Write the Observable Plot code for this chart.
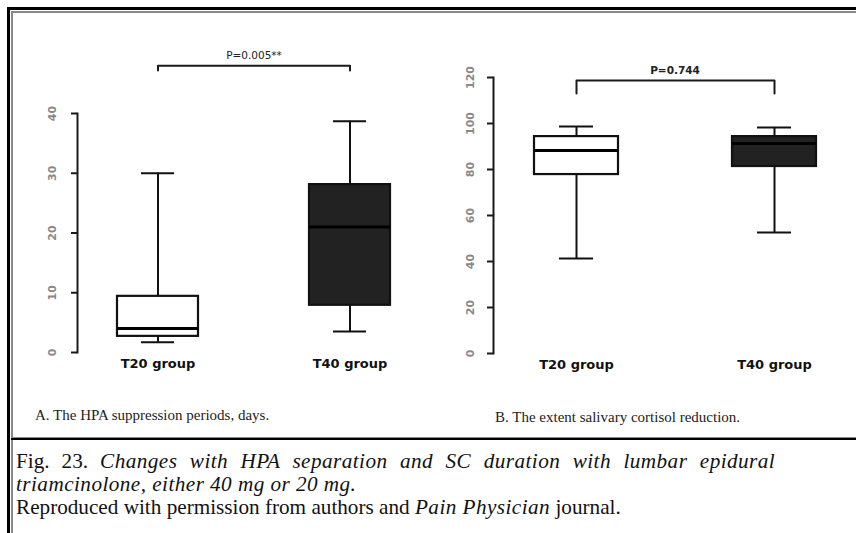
<!DOCTYPE html>
<html><head><meta charset="utf-8">
<script src="https://cdn.jsdelivr.net/npm/d3@7"></script>
<script src="https://cdn.jsdelivr.net/npm/@observablehq/plot@0.6"></script>
<style>
html,body{margin:0;padding:0;background:#fff}
body{width:856px;height:533px;overflow:hidden;position:relative;font-family:"Liberation Serif",serif}
.ln{position:absolute}
.panel{position:absolute;top:0}
.cap{position:absolute;font-family:"Liberation Serif",serif;font-size:15px;color:#222;white-space:nowrap;line-height:16px}
.fig{position:absolute;left:16px;font-family:"Liberation Serif",serif;font-size:21.2px;color:#111;white-space:nowrap;line-height:23px}
.fig i{letter-spacing:0.45px}
</style></head><body>
<div class="ln" style="left:7px;top:7px;width:849px;height:3px;background:#000"></div>
<div class="ln" style="left:11px;top:11px;width:845px;height:2px;background:#8a8a8a"></div>
<div class="ln" style="left:7px;top:7px;width:3px;height:526px;background:#000"></div>
<div class="ln" style="left:11px;top:11px;width:2px;height:522px;background:#8a8a8a"></div>
<div class="ln" style="left:11px;top:437px;width:845px;height:1px;background:#8a8a8a"></div>
<div class="ln" style="left:11px;top:438px;width:845px;height:2px;background:#000"></div>
<div id="pa" class="panel" style="left:0"></div>
<div id="pb" class="panel" style="left:430px"></div>
<div class="cap" style="left:35px;top:407px">A. The HPA suppression periods, days.</div>
<div class="cap" style="left:495px;top:409px">B. The extent salivary cortisol reduction.</div>
<div class="fig" style="top:450px;word-spacing:6.7px">Fig. 23. <i>Changes with HPA separation and SC duration with lumbar epidural</i></div>
<div class="fig" style="top:473px"><i>triamcinolone, either 40 mg or 20 mg.</i></div>
<div class="fig" style="top:496px">Reproduced with permission from authors and <i>Pain Physician</i> journal.</div>
<script>
const groups = ["T20 group", "T40 group"];

// Panel A: HPA suppression periods, days
const hpaMin = [1.7, 3.5];
const hpaQ1 = [2.7, 7.9];
const hpaMedian = [4.0, 21.0];
const hpaQ3 = [9.4, 28.1];
const hpaMax = [30.0, 38.7];
const hpaTicks = [0, 10, 20, 30, 40];
const hpaBracket = [47.2, 48.0];
const hpaP = "P=0.005**";

// Panel B: extent of salivary cortisol reduction
const scMin = [41.3, 52.6];
const scQ1 = [77.8, 81.3];
const scMedian = [88.3, 91.3];
const scQ3 = [94.3, 94.3];
const scMax = [98.7, 98.3];
const scTicks = [0, 20, 40, 60, 80, 100, 120];
const scBracket = [113.0, 118.7];
const scP = "P=0.744";

const boxFills = ["#ffffff", "#222222"];

function panel({min, q1, med, q3, max, ticks, bracket, pText, pWeight, width, marginLeft, marginTop, marginBottom, paddingInner, paddingOuter, capInset, tickPadding}) {
  const rows = groups.map((g, i) => ({g, min: min[i], q1: q1[i], med: med[i], q3: q3[i], max: max[i], fill: boxFills[i]}));
  const br = [
    {g: groups[0], v: bracket[0]}, {g: groups[0], v: bracket[1]},
    {g: groups[1], v: bracket[1]}, {g: groups[1], v: bracket[0]}
  ];
  return Plot.plot({
    width, height: 400, marginLeft, marginRight: 0, marginTop, marginBottom,
    style: {background: "transparent", overflow: "visible"},
    x: {type: "band", domain: groups, paddingInner, paddingOuter},
    y: {domain: [ticks[0], ticks[ticks.length - 1]]},
    color: {type: "identity"},
    marks: [
      Plot.frame({anchor: "left", stroke: "#1a1a1a", strokeWidth: 2}),
      Plot.axisY({ticks, tickSize: 6, strokeWidth: 2, stroke: "#1a1a1a", tickPadding, tickRotate: -90,
        fill: "#888", fontSize: 11, fontFamily: "DejaVu Sans", fontWeight: "bold", label: null}),
      Plot.axisX({tickSize: 0, tickPadding: 6, fontSize: 13, fontWeight: "bold", fontFamily: "DejaVu Sans", fill: "#111", label: null}),
      Plot.ruleX(rows, {x: "g", y1: "min", y2: "max", stroke: "#111", strokeWidth: 2}),
      Plot.barY(rows, {x: "g", y1: "q1", y2: "q3", fill: "fill", stroke: "#111", strokeWidth: 2.2}),
      Plot.tickY(rows, {x: "g", y: "med", stroke: "#000", strokeWidth: 3}),
      Plot.tickY(rows, {x: "g", y: "min", stroke: "#111", strokeWidth: 2, insetLeft: capInset, insetRight: capInset}),
      Plot.tickY(rows, {x: "g", y: "max", stroke: "#111", strokeWidth: 2, insetLeft: capInset, insetRight: capInset}),
      Plot.line(br, {x: "g", y: "v", stroke: "#1a1a1a", strokeWidth: 2}),
      Plot.text([pText], {y: () => bracket[1], text: d => d, frameAnchor: "middle", dy: -10,
        fontSize: 10.5, fontWeight: pWeight, fontFamily: "DejaVu Sans", fill: "#222"})
    ]
  });
}

document.getElementById("pa").appendChild(panel({
  min: hpaMin, q1: hpaQ1, med: hpaMedian, q3: hpaQ3, max: hpaMax, ticks: hpaTicks,
  bracket: hpaBracket, pText: hpaP, pWeight: "normal",
  width: 430, marginLeft: 77, marginTop: 113, marginBottom: 48,
  paddingInner: 0.578, paddingOuter: 0.208, capInset: 24, tickPadding: 16
}));
document.getElementById("pb").appendChild(panel({
  min: scMin, q1: scQ1, med: scMedian, q3: scQ3, max: scMax, ticks: scTicks,
  bracket: scBracket, pText: scP, pWeight: "bold",
  width: 426, marginLeft: 63, marginTop: 77, marginBottom: 47,
  paddingInner: 0.576, paddingOuter: 0.202, capInset: 25, tickPadding: 14
}));
</script>
</body></html>
